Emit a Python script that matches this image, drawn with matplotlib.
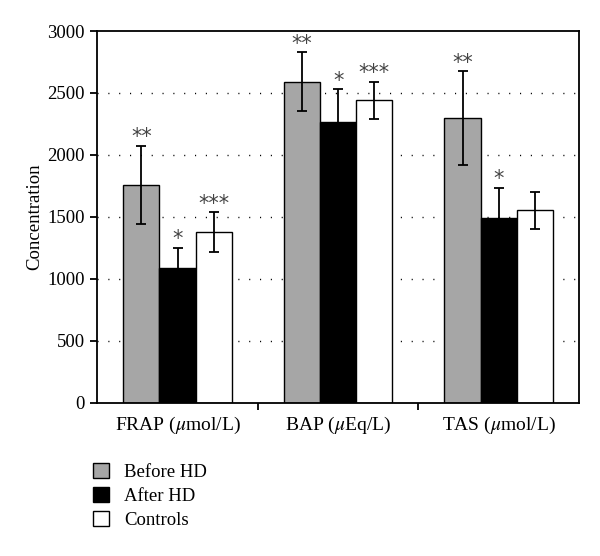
import numpy as np
import matplotlib
matplotlib.use("Agg")
import matplotlib.pyplot as plt
from matplotlib.patches import Patch

plt.rcParams["font.family"] = ["Liberation Serif", "DejaVu Serif"]
plt.rcParams["mathtext.fontset"] = "stix"

# --- Daten ---
categories = ["FRAP ($\\mu$mol/L)", "BAP ($\\mu$Eq/L)", "TAS ($\\mu$mol/L)"]
series = ["Before HD", "After HD", "Controls"]
before   = [1757, 2590, 2296]
after    = [1087, 2264, 1491]
controls = [1376, 2442, 1554]
err_before   = [318, 238, 380]
err_after    = [161, 267, 242]
err_controls = [161, 150, 150]
stars_before   = ["**", "**", "**"]
stars_after    = ["*", "*", "*"]
stars_controls = ["***", "***", ""]

colors = ["#a6a6a6", "#000000", "#ffffff"]

fig = plt.figure(figsize=(6.0, 5.56), dpi=100)
ax = fig.add_axes([0.162, 0.2757, 0.803, 0.6685])

x = np.arange(len(categories))
w = 0.225
for i, (vals, errs, stars) in enumerate([
    (before, err_before, stars_before),
    (after, err_after, stars_after),
    (controls, err_controls, stars_controls),
]):
    xpos = x + (i - 1) * w
    ax.bar(xpos, vals, w, color=colors[i], edgecolor="black", linewidth=1.0,
           zorder=2, label=series[i])
    ax.errorbar(xpos, vals, yerr=errs, fmt="none", ecolor="black",
                elinewidth=1.3, capsize=3.5, capthick=1.3, zorder=3)
    for xp, v, e, s in zip(xpos, vals, errs, stars):
        if s:
            ax.annotate(s, (xp, v + e), xytext=(0, -1), textcoords="offset points",
                        ha="center", va="bottom", fontsize=15, color="#444444",
                        family="DejaVu Sans")

ax.set_xlim(-0.5, 2.5)
ax.set_ylim(0, 3000)
ax.set_yticks(np.arange(0, 3001, 500))
ax.set_xticks([0.5, 1.5], minor=False)
ax.set_xticklabels([])
ax.set_xticks(x, minor=True)
ax.set_xticklabels(categories, minor=True, fontsize=14)
ax.tick_params(axis="x", which="minor", length=0, pad=9)
ax.tick_params(axis="x", which="major", direction="out", length=5, width=1.3)
ax.tick_params(axis="y", direction="out", length=5, width=1.3, labelsize=13.5, pad=4)
for sp in ax.spines.values():
    sp.set_linewidth(1.3)

for yv in range(500, 3000, 500):
    ax.axhline(yv, color="black", linewidth=1.0, linestyle=(0, (0.8, 7)), zorder=1)

ax.set_ylabel("Concentration", fontsize=13.5, labelpad=3)

handles = [Patch(facecolor=c, edgecolor="black", linewidth=1.0) for c in colors]
fig.legend(handles, series, loc="upper left", bbox_to_anchor=(0.143, 0.18),
           frameon=False, fontsize=13.5, handlelength=0.85, handleheight=0.85,
           handletextpad=0.8, labelspacing=0.3, borderaxespad=0)

fig.savefig("out.png", dpi=100)
